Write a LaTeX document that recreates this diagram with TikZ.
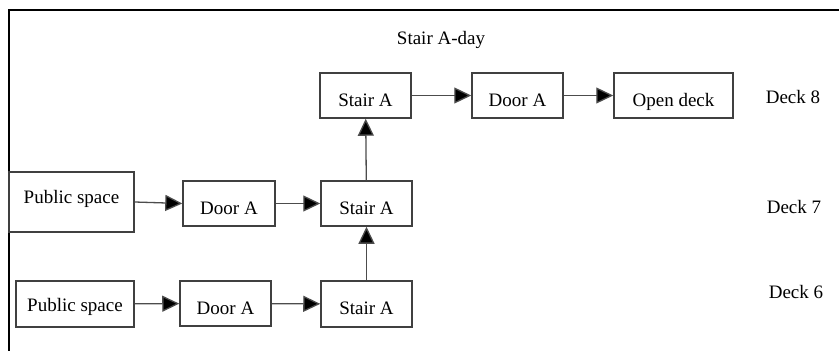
\documentclass[tikz,border=0pt]{standalone}
\usepackage{fontspec}
\setmainfont{Liberation Serif}
\usetikzlibrary{arrows.meta}
\begin{document}
\begin{tikzpicture}[x=1pt,y=-1pt,
  box/.style={draw=black!75,line width=1.5pt,rectangle,inner sep=0pt,text height=21pt,text depth=0pt,font=\fontsize{19}{22}\selectfont},
  lbl/.style={inner sep=0pt,font=\fontsize{19}{22}\selectfont},
  arr/.style={draw=black!70,line width=1.3pt,-{Triangle[length=17pt,width=16pt,fill=black]}}]
\useasboundingbox (0,0) rectangle (839,351);
\coordinate (ftl) at (9,10);
\coordinate (ftr) at (839,10);
\coordinate (fbl) at (9,351);
\draw[line width=2.2pt,line cap=rect] (ftr) -- (ftl) -- (fbl);
\node[lbl] (title) at (441,40) {Stair A-day};
\node[box,minimum width=91pt,minimum height=45pt] (s8) at (365.5,95.5) {Stair A};
\node[box,minimum width=91pt,minimum height=45pt] (d8) at (517.5,95.5) {Door A};
\node[box,minimum width=119pt,minimum height=45pt] (o8) at (673.5,95.5) {Open deck};
\node[box,minimum width=125pt,minimum height=60pt,text height=12pt,text depth=8.4pt] (p7) at (71.5,202) {Public space};
\node[box,minimum width=92pt,minimum height=45pt] (d7) at (229,203.5) {Door A};
\node[box,minimum width=91pt,minimum height=45pt] (s7) at (366.5,203.5) {Stair A};
\node[box,minimum width=118pt,minimum height=46pt,text height=16pt,text depth=0.4pt] (p6) at (75,304) {Public space};
\node[box,minimum width=91pt,minimum height=45pt] (d6) at (225.5,303.5) {Door A};
\node[box,minimum width=91pt,minimum height=46pt] (s6) at (366.5,304) {Stair A};
\node[lbl] (k8) at (793,97) {Deck 8};
\node[lbl] (k7) at (794,207) {Deck 7};
\node[lbl] (k6) at (796,292) {Deck 6};
\draw[arr] (s8) -- (d8);
\draw[arr] (d8) -- (o8);
\draw[arr] (p7.east) -- (d7.west);
\draw[arr] (d7) -- (s7);
\draw[arr] (p6) -- (d6);
\draw[arr] (d6) -- (s6);
\draw[arr] (s6) -- (s7);
\draw[arr] (s7) -- (s8);
\end{tikzpicture}
\end{document}
